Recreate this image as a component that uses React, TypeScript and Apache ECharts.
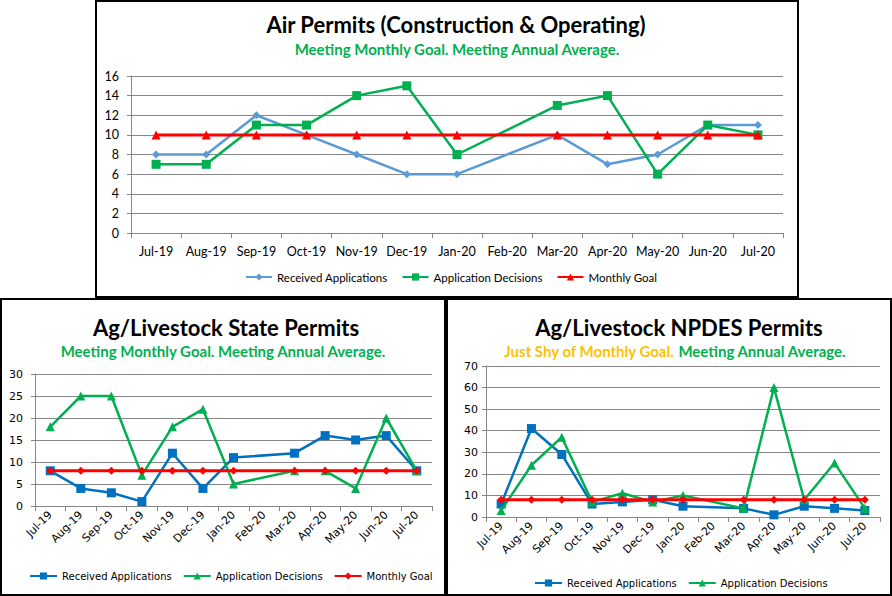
import React, { useEffect, useRef } from "react";
import * as echarts from "echarts";

const months = ["Jul-19", "Aug-19", "Sep-19", "Oct-19", "Nov-19", "Dec-19", "Jan-20", "Feb-20", "Mar-20", "Apr-20", "May-20", "Jun-20", "Jul-20"];

const airReceived = [8, 8, 12, 10, 8, 6, 6, null, 10, 7, 8, 11, 11];
const airDecisions = [7, 7, 11, 11, 14, 15, 8, null, 13, 14, 6, 11, 10];
const airGoal = [10, 10, 10, 10, 10, 10, 10, null, 10, 10, 10, 10, 10];

const stateReceived = [8, 4, 3, 1, 12, 4, 11, null, 12, 16, 15, 16, 8];
const stateDecisions = [18, 25, 25, 7, 18, 22, 5, null, 8, 8, 4, 20, 8];
const stateGoal = [8, 8, 8, 8, 8, 8, 8, null, 8, 8, 8, 8, 8];

const npdesReceived = [6, 41, 29, 6, 7, 8, 5, null, 4, 1, 5, 4, 3];
const npdesDecisions = [3, 24, 37, 7, 11, 7, 10, null, 4, 60, 8, 25, 4];
const npdesGoal = [8, 8, 8, 8, 8, 8, 8, null, 8, 8, 8, 8, 8];

const airTicks = { min: 0, max: 16, interval: 2 };
const stateTicks = { min: 0, max: 30, interval: 5 };
const npdesTicks = { min: 0, max: 70, interval: 10 };

const GRID_GRAY = "#868686";
const GREEN = "#00B050";
const RED = "#FF0000";
const LIGHT_BLUE = "#5B9BD5";
const BLUE = "#0070C0";
const GOLD = "#FFC000";

const CAL = "Lato, 'Open Sans', sans-serif";
const VER = "'DejaVu Sans', Verdana, sans-serif";

function lineSeries(name: string, data: (number | null)[], color: string, symbol: string, size: number, width: number, z: number) {
  return {
    type: "line",
    name,
    data,
    connectNulls: true,
    symbol,
    symbolSize: size,
    showAllSymbol: true,
    lineStyle: { color, width },
    itemStyle: { color, borderWidth: 0 },
    z,
  };
}

function frame(w: number, h: number) {
  return {
    type: "rect",
    silent: true,
    shape: { x: 1, y: 1, width: w - 2, height: h - 2 },
    style: { fill: "none", stroke: "#000", lineWidth: 2 },
  };
}

function titleText(text: string, x: number, y: number, size: number) {
  return {
    type: "text",
    x,
    y,
    silent: true,
    style: {
      text,
      fill: "#000",
      fontFamily: CAL,
      fontWeight: "bold",
      fontSize: size,
      textAlign: "center",
      textVerticalAlign: "middle",
    },
  };
}

function subText(text: string, rich: any, x: number, y: number) {
  return {
    type: "text",
    x,
    y,
    silent: true,
    style: {
      text,
      rich,
      fill: GREEN,
      fontFamily: CAL,
      fontWeight: "bold",
      fontSize: 15,
      textAlign: "center",
      textVerticalAlign: "middle",
    },
  };
}

function axes(ticks: { min: number; max: number; interval: number }, font: string, fontSize: number, rotate: number, xMargin: number, yMargin: number) {
  return {
    xAxis: {
      type: "category",
      data: months,
      boundaryGap: true,
      axisLine: { show: true, lineStyle: { color: GRID_GRAY, width: 1 } },
      axisTick: { show: true, length: 5, lineStyle: { color: GRID_GRAY } },
      axisLabel: { interval: 0, rotate, margin: xMargin, color: "#000", fontFamily: font, fontSize },
      splitLine: { show: false },
    },
    yAxis: {
      type: "value",
      min: ticks.min,
      max: ticks.max,
      interval: ticks.interval,
      axisLine: { show: true, lineStyle: { color: GRID_GRAY, width: 1 } },
      axisTick: { show: true, length: 4, lineStyle: { color: GRID_GRAY } },
      axisLabel: { margin: yMargin, color: "#000", fontFamily: font, fontSize },
      splitLine: { show: true, lineStyle: { color: GRID_GRAY, width: 1 } },
    },
  };
}

const TOP_W = 704, TOP_H = 298;
const BOT_W = 446, BOT_H = 298;

const airOption = {
  animation: false,
  graphic: [
    frame(TOP_W, TOP_H),
    titleText("Air Permits (Construction & Operating)", 361, 24, 22),
    subText("Meeting Monthly Goal. Meeting Annual Average.", undefined, 362, 49),
  ],
  grid: { left: 36, right: 16, top: 76, bottom: 65 },
  legend: {
    top: 266,
    left: 145,
    width: 520,
    itemWidth: 26,
    itemHeight: 9,
    itemGap: 14,
    textStyle: { color: "#000", fontFamily: CAL, fontSize: 11.5 },
    data: ["Received Applications", "Application Decisions", "Monthly Goal"],
  },
  ...axes(airTicks, CAL, 12.5, 0, 12, 12),
  series: [
    lineSeries("Received Applications", airReceived, LIGHT_BLUE, "diamond", 8, 2.5, 2),
    lineSeries("Application Decisions", airDecisions, GREEN, "rect", 9, 2.5, 3),
    lineSeries("Monthly Goal", airGoal, RED, "triangle", 9, 3, 4),
  ],
};

const stateOption = {
  animation: false,
  graphic: [
    frame(BOT_W, BOT_H),
    titleText("Ag/Livestock State Permits", 226, 29, 22),
    subText("Meeting Monthly Goal. Meeting Annual Average.", undefined, 223, 53),
  ],
  grid: { left: 35, right: 14, top: 76, bottom: 90 },
  legend: {
    top: 268,
    left: 24,
    width: 418,
    itemWidth: 27,
    itemHeight: 9,
    itemGap: 11,
    textStyle: { color: "#000", fontFamily: VER, fontSize: 10 },
    data: ["Received Applications", "Application Decisions", "Monthly Goal"],
  },
  ...axes(stateTicks, VER, 11, 45, 7, 12),
  series: [
    lineSeries("Received Applications", stateReceived, BLUE, "rect", 9, 2.5, 2),
    lineSeries("Application Decisions", stateDecisions, GREEN, "triangle", 9, 2.5, 3),
    lineSeries("Monthly Goal", stateGoal, RED, "diamond", 8, 3, 4),
  ],
};

const npdesOption = {
  animation: false,
  graphic: [
    frame(BOT_W, BOT_H),
    titleText("Ag/Livestock NPDES Permits", 233, 29, 22),
    subText(
      "{a|Just Shy of Monthly Goal.} {b|Meeting Annual Average.}",
      {
        a: { fill: GOLD, fontFamily: CAL, fontWeight: "bold", fontSize: 15 },
        b: { fill: GREEN, fontFamily: CAL, fontWeight: "bold", fontSize: 15 },
      },
      229,
      53
    ),
  ],
  grid: { left: 40, right: 12, top: 68, bottom: 79 },
  legend: {
    top: 275,
    left: 83,
    width: 350,
    itemWidth: 27,
    itemHeight: 9,
    itemGap: 11,
    textStyle: { color: "#000", fontFamily: VER, fontSize: 10 },
    data: ["Received Applications", "Application Decisions"],
  },
  ...axes(npdesTicks, VER, 11, 45, 7, 8),
  series: [
    lineSeries("Received Applications", npdesReceived, BLUE, "rect", 9, 2.5, 2),
    lineSeries("Application Decisions", npdesDecisions, GREEN, "triangle", 9, 2.5, 3),
    lineSeries("Monthly Goal", npdesGoal, RED, "diamond", 8, 3, 4),
  ],
};

function ChartBox(props: { left: number; top: number; width: number; height: number; option: any }) {
  const ref = useRef<HTMLDivElement>(null);
  useEffect(() => {
    if (!ref.current) return;
    const chart = echarts.init(ref.current, undefined, { renderer: "svg" });
    chart.setOption(props.option);
    return () => chart.dispose();
  }, []);
  return (
    <div
      ref={ref}
      style={{ position: "absolute", left: props.left, top: props.top, width: props.width, height: props.height }}
    />
  );
}

export default function App() {
  return (
    <div style={{ position: "fixed", left: 0, top: 0, width: 892, height: 596, background: "#fff", overflow: "hidden" }}>
      <ChartBox left={95} top={0} width={TOP_W} height={TOP_H} option={airOption} />
      <ChartBox left={0} top={298} width={BOT_W} height={BOT_H} option={stateOption} />
      <ChartBox left={446} top={298} width={BOT_W} height={BOT_H} option={npdesOption} />
    </div>
  );
}
